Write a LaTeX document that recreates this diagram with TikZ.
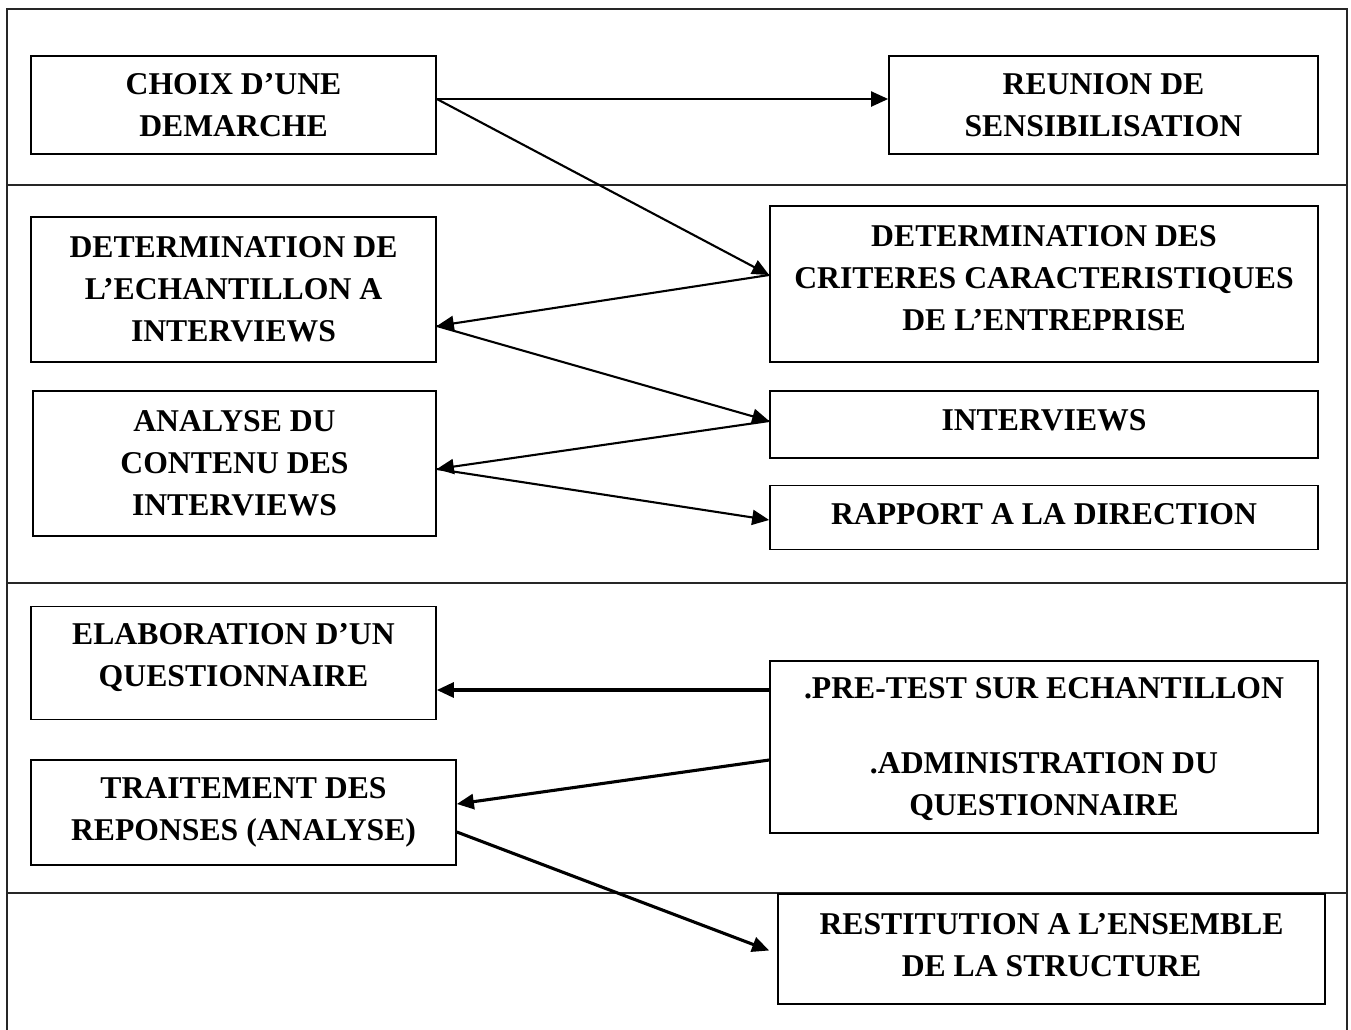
\documentclass[tikz,border=0pt]{standalone}
\usepackage{fontspec}
\setmainfont{Liberation Serif}
\usetikzlibrary{arrows.meta,calc}
\begin{document}
\begin{tikzpicture}[x=1pt,y=-1pt,
  box/.style={draw, line width=1.7pt, inner sep=0pt},
  txt/.style={align=center, inner sep=0pt,
    font=\fontsize{31.7pt}{42pt}\selectfont\bfseries},
  link/.style={line width=2.1pt, -{Triangle[length=17pt,width=15pt]}},
  thicklink/.style={line width=3.1pt, -{Triangle[length=17pt,width=15pt]}},
  frame/.style={line width=1.6pt, draw=black!85}]
\useasboundingbox (0,0) rectangle (1351,1029);

% outer frame and the four bands
\draw[frame] (7,1040) -- (7,9) -- (1347,9) -- (1347,1040);
\draw[frame] (7,185) -- (1347,185);
\draw[frame] (7,583) -- (1347,583);
\draw[frame] (7,893) -- (1347,893);

% boxes, each with its text set at its centre
\node[box, minimum width=405pt, minimum height=98pt,
  label={[txt]center:{CHOIX D’UNE\\DEMARCHE}}] (choix) at (233.5,105) {};
\node[box, minimum width=429pt, minimum height=98pt,
  label={[txt]center:{REUNION DE\\SENSIBILISATION}}] (reunion) at (1103.5,105) {};
\node[box, minimum width=405pt, minimum height=145pt,
  label={[txt]center:{DETERMINATION DE\\L’ECHANTILLON A\\INTERVIEWS}}] (echant) at (233.5,289.5) {};
\node[box, minimum width=548pt, minimum height=156pt,
  label={[txt,yshift=6pt]center:{DETERMINATION DES\\CRITERES CARACTERISTIQUES\\DE L’ENTREPRISE}}] (criteres) at (1044,284) {};
\node[box, minimum width=403pt, minimum height=145pt,
  label={[txt]center:{ANALYSE DU\\CONTENU DES\\INTERVIEWS}}] (analyse) at (234.5,463.5) {};
\node[box, minimum width=548pt, minimum height=67pt,
  label={[txt,yshift=4pt]center:{INTERVIEWS}}] (interviews) at (1044,424.5) {};
\node[box, minimum width=548pt, minimum height=64pt,
  label={[txt,yshift=3pt]center:{RAPPORT A LA DIRECTION}}] (rapport) at (1044,517.5) {};
\node[box, minimum width=405pt, minimum height=113pt,
  label={[txt,yshift=5pt]center:{ELABORATION D’UN\\QUESTIONNAIRE}}] (elab) at (233.5,663) {};
\node[box, minimum width=548pt, minimum height=172pt,
  label={[txt,yshift=-2pt]center:{.PRE-TEST SUR ECHANTILLON\\[33pt].ADMINISTRATION DU\\QUESTIONNAIRE}}] (pretest) at (1044,747) {};
\node[box, minimum width=425pt, minimum height=105pt,
  label={[txt]center:{TRAITEMENT DES\\REPONSES (ANALYSE)}}] (traitement) at (243.5,812.5) {};
\node[box, minimum width=547pt, minimum height=110pt,
  label={[txt,yshift=3.5pt]center:{RESTITUTION A L’ENSEMBLE\\DE LA STRUCTURE}}] (restitution) at (1051.5,949) {};

% connectors
\draw[link] ([yshift=6pt]choix.east) -- ([yshift=6pt]reunion.west);
\draw[link] ([yshift=6pt]choix.east) -- ([yshift=9pt]criteres.west);
\draw[link] ([yshift=9pt]criteres.west) -- ([yshift=-36.5pt]echant.east);
\draw[link] ([yshift=-36.5pt]echant.east) -- ([yshift=3.5pt]interviews.west);
\draw[link] ([yshift=3.5pt]interviews.west) -- ([yshift=-5.5pt]analyse.east);
\draw[link] ([yshift=-5.5pt]analyse.east) -- ([yshift=-2.5pt]rapport.west);
\draw[thicklink] ([yshift=57pt]pretest.west) -- ([yshift=-27pt]elab.east);
\draw[thicklink] ([yshift=-13pt]pretest.west) -- ([yshift=8.5pt]traitement.east);
\draw[thicklink] ([yshift=-19.5pt]traitement.east) -- ([xshift=-8pt,yshift=-1.5pt]restitution.west);
\end{tikzpicture}
\end{document}
